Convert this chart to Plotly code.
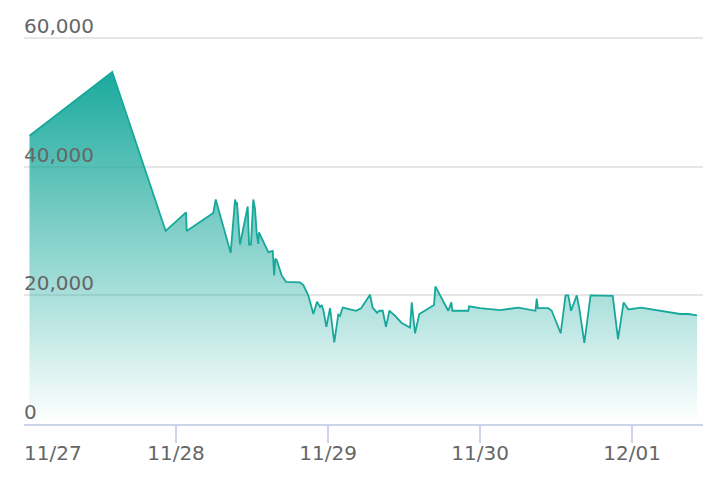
import plotly.graph_objects as go

times = [
    "2023-11-27 00:52", "2023-11-27 13:56", "2023-11-27 22:22",
    "2023-11-28 01:35", "2023-11-28 01:41", "2023-11-28 05:53", "2023-11-28 06:16",
    "2023-11-28 08:38", "2023-11-28 09:19", "2023-11-28 09:28", "2023-11-28 09:38",
    "2023-11-28 10:06", "2023-11-28 11:19", "2023-11-28 11:32", "2023-11-28 11:50",
    "2023-11-28 12:12", "2023-11-28 12:28", "2023-11-28 12:44", "2023-11-28 12:59",
    "2023-11-28 13:06", "2023-11-28 14:34", "2023-11-28 15:16", "2023-11-28 15:30",
    "2023-11-28 15:41", "2023-11-28 15:54", "2023-11-28 16:41", "2023-11-28 17:22",
    "2023-11-28 19:35", "2023-11-28 20:06", "2023-11-28 20:53", "2023-11-28 21:41",
    "2023-11-28 22:16", "2023-11-28 22:44", "2023-11-28 23:00", "2023-11-28 23:17",
    "2023-11-28 23:44", "2023-11-29 00:19", "2023-11-29 00:59", "2023-11-29 01:37",
    "2023-11-29 01:53", "2023-11-29 02:19", "2023-11-29 04:25", "2023-11-29 05:13",
    "2023-11-29 06:38", "2023-11-29 07:02", "2023-11-29 07:44", "2023-11-29 08:06",
    "2023-11-29 08:38", "2023-11-29 09:09", "2023-11-29 09:41", "2023-11-29 10:35",
    "2023-11-29 11:38", "2023-11-29 12:57", "2023-11-29 13:13", "2023-11-29 13:44",
    "2023-11-29 14:25", "2023-11-29 16:44", "2023-11-29 16:57", "2023-11-29 18:59",
    "2023-11-29 19:28", "2023-11-29 19:38", "2023-11-29 22:09", "2023-11-29 22:16",
    "2023-11-30 00:00", "2023-11-30 03:09", "2023-11-30 06:03", "2023-11-30 08:45",
    "2023-11-30 08:57", "2023-11-30 09:07", "2023-11-30 10:47", "2023-11-30 11:19",
    "2023-11-30 12:44", "2023-11-30 13:30", "2023-11-30 13:56", "2023-11-30 14:22",
    "2023-11-30 15:16", "2023-11-30 15:41", "2023-11-30 16:28", "2023-11-30 17:27",
    "2023-11-30 20:57", "2023-11-30 21:47", "2023-11-30 22:40", "2023-11-30 23:25",
    "2023-12-01 01:25", "2023-12-01 07:35", "2023-12-01 08:53", "2023-12-01 10:16",
]
values = [
    44800, 54700, 30000,
    32900, 30000, 32800, 34900,
    26600, 34900, 34200, 34300,
    27900, 33800, 27900, 27900,
    34900, 33500, 29700, 28000,
    29800, 26700, 26900, 23100,
    25700, 25500, 23100, 22100,
    22000, 21600, 20000, 17100,
    19000, 18200, 18500, 17600,
    15100, 18000, 12700, 17000,
    16800, 18100, 17600, 18000,
    20100, 18100, 17300, 17600,
    17600, 15100, 17600, 16800,
    15700, 15000, 18900, 14100,
    17100, 18500, 21400, 17600,
    18900, 17600, 17600, 18300,
    18000, 17700, 18100, 17600,
    19500, 18000, 18000, 17600,
    14100, 20000, 20000, 17600,
    20000, 17900, 12600, 20000,
    19900, 13200, 18900, 17800,
    18100, 17100, 17100, 16900,
]

tick_dates = ["2023-11-27", "2023-11-28", "2023-11-29", "2023-11-30", "2023-12-01"]
tick_labels = ["11/27", "11/28", "11/29", "11/30", "12/01"]
y_ticks = [0, 20000, 40000, 60000]
y_labels = ["0", "20,000", "40,000", "60,000"]

TEAL = "#17a89b"
AXIS = "#ccd4ea"
TXT = "#666666"
FONT = "DejaVu Sans"

fig = go.Figure()
fig.add_trace(go.Scatter(
    x=times, y=values, mode="lines",
    line=dict(color=TEAL, width=1.8),
    fill="tozeroy",
    fillgradient=dict(
        type="vertical",
        start=0, stop=max(values),
        colorscale=[[0, "rgba(23,168,155,0.0)"], [0.5, "rgba(23,168,155,0.5)"], [1, "rgba(23,168,155,0.98)"]],
    ),
    hoverinfo="skip",
))

# page body has an 8px margin, so the figure is sized/offset to compensate
fig.update_layout(
    width=716, height=478,
    margin=dict(l=16, r=21, t=2, b=62, autoexpand=False),
    paper_bgcolor="white", plot_bgcolor="white",
    showlegend=False,
    font=dict(family=FONT, color=TXT, size=20),
    xaxis=dict(
        type="date",
        range=["2023-11-27 00:00", "2023-12-01 11:12"],
        tickvals=tick_dates,
        ticktext=[""] + tick_labels[1:],
        showgrid=False, zeroline=False,
        showline=True, linecolor=AXIS, linewidth=2,
        ticks="outside", ticklen=17, tickwidth=2, tickcolor=AXIS,
        ticklabelstandoff=-7,
        automargin=False,
        tickfont=dict(family=FONT, size=20, color=TXT),
    ),
    yaxis=dict(
        range=[0, 64350],
        tickvals=y_ticks, ticktext=y_labels,
        showgrid=True, gridcolor="#e6e6e6", gridwidth=1.5,
        zeroline=False, showline=False, ticks="",
        ticklabelposition="inside top",
        ticklabelshift=2, ticklabelstandoff=-3,
        automargin=False,
        tickfont=dict(family=FONT, size=20, color=TXT),
    ),
)

fig.add_annotation(
    x=tick_dates[0], y=0, xref="x", yref="paper",
    text=tick_labels[0], showarrow=False,
    xanchor="left", yanchor="top", yshift=-15, xshift=-2,
    font=dict(family=FONT, size=20, color=TXT),
)

fig.write_html("out.html")
